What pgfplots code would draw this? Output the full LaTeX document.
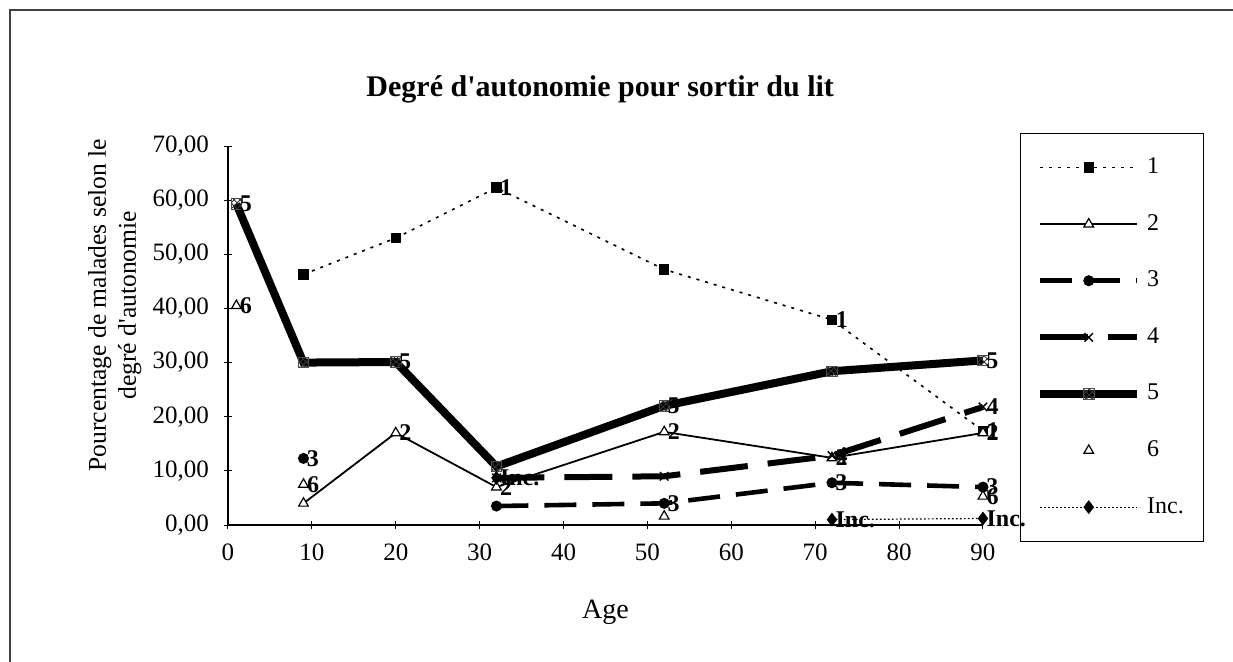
\documentclass[border=0pt]{standalone}
\usepackage{pgfplots}
\pgfplotsset{compat=1.18}
\usetikzlibrary{patterns}
\usepackage{fontspec}
\setmainfont{Liberation Serif}
\begin{document}
\begin{tikzpicture}
\useasboundingbox (0,0) rectangle (616.5pt,-331pt);
\draw[line width=0.7pt, black!75] (5pt,-345pt) -- (5pt,-5pt) -- (640pt,-5pt);
\begin{axis}[
  at={(114pt,-262.5pt)}, anchor=south west,
  scale only axis, width=377.5pt, height=189.5pt,
  xmin=0, xmax=90, ymin=0, ymax=70,
  xtick={0,10,...,90}, ytick={0,10,...,70},
  axis x line*=bottom, axis y line*=left,
  tick align=center, major tick length=4pt,
  tick style={black, line width=0.5pt},
  axis line style={black, line width=0.6pt},
  /pgf/number format/assume math mode=true,
  y tick label style={/pgf/number format/fixed, /pgf/number format/fixed zerofill, /pgf/number format/precision=2, /pgf/number format/use comma},
  ticklabel style={font=\fontsize{12.5}{13}\selectfont},
  xticklabel style={yshift=-4pt},
  yticklabel style={xshift=-4pt},
  title={Degré d\textquotesingle autonomie pour sortir du lit},
  title style={font=\bfseries\fontsize{15}{17}\selectfont, at={(0.493,1.119)}, anchor=center},
  xlabel={Age},
  xlabel style={font=\fontsize{14}{16}\selectfont, at={(0.5,-0.23)}, anchor=center},
  ylabel={Pourcentage de malades selon le\\degré d\textquotesingle autonomie},
  ylabel style={align=center, font=\fontsize{12.8}{15}\selectfont, at={(-0.15,0.58)}, anchor=center},
  unbounded coords=jump,
  clip=false,
  legend image code/.code={\draw[mark repeat=2,mark phase=2,#1] plot coordinates {(0cm,0cm) (0.85cm,0cm) (1.7cm,0cm)};},
  legend style={at={(1.049,1.034)}, anchor=north west, draw=black, fill=none,
    font=\fontsize{12}{14}\selectfont, inner xsep=8pt, inner ysep=10pt,
    row sep=14.3pt, column sep=1pt,
    nodes={inner sep=2pt, text height=8pt, text depth=2pt}},
  legend cell align=left,
  lbl/.style={nodes near coords, point meta=explicit symbolic,
    nodes near coords style={anchor=west, font=\bfseries\fontsize{12}{12}\selectfont, inner sep=0.5pt, xshift=1pt, black}},
]
% 1
\addplot[black, line width=0.8pt, dash pattern=on 1.5pt off 3pt, mark=square*, mark size=2.2pt, mark options={solid}, lbl]
  coordinates {(9,46.3) [] (20,53.0) [] (32,62.3) [1] (52,47.2) [] (72,37.9) [1] (90,17.4) [1]};
\addlegendentry{1}
% 2
\addplot[black, line width=0.9pt, mark=triangle*, mark size=2.8pt, mark options={solid, fill=white, line width=0.6pt}, lbl]
  coordinates {(9,4.0) [] (20,17.0) [2] (32,7.0) [2] (52,17.2) [2] (72,12.4) [2] (90,17.0) [2]};
\addlegendentry{2}
% 3
\addplot[black, line width=2.3pt, dash pattern=on 16pt off 8pt, mark=*, mark size=2.5pt, mark options={solid, line width=0.5pt}, lbl]
  coordinates {(9,12.3) [3] (20,nan) [] (32,3.5) [] (52,4.0) [3] (72,7.8) [3] (90,7.0) [3]};
\addlegendentry{3}
% 4
\addplot[black, line width=3pt, dash pattern=on 24pt off 10pt, mark=x, mark size=3pt, mark options={solid, line width=0.7pt}, lbl]
  coordinates {(32,8.7) [] (52,9.0) [] (72,12.8) [4] (90,21.8) [4]};
\addlegendentry{4}
% 5
\addplot[black, line width=4pt, mark=square*, mark size=2.6pt, mark options={solid, fill=white, pattern=crosshatch, pattern color=black!80, draw=black!70, line width=0.4pt}, lbl]
  coordinates {(1,59.3) [5] (9,30.0) [] (20,30.1) [5] (32,10.8) [] (52,22.0) [5] (72,28.4) [] (90,30.4) [5]};
\addlegendentry{5}
% 6
\addplot[black, only marks, mark=triangle*, mark size=2.8pt, mark options={solid, fill=white, line width=0.6pt}, lbl]
  coordinates {(1,40.5) [6] (9,7.5) [6] (52,1.6) [] (90,5.3) [6]};
\addlegendentry{6}
% Inc.
\addplot[black, line width=0.6pt, dash pattern=on 0.8pt off 1.2pt, mark=diamond*, mark size=3pt, mark options={solid}, lbl]
  coordinates {(32,8.7) [Inc.] (52,nan) [] (72,1.0) [Inc.] (90,1.2) [Inc.]};
\addlegendentry{Inc.}
\end{axis}
\end{tikzpicture}
\end{document}
